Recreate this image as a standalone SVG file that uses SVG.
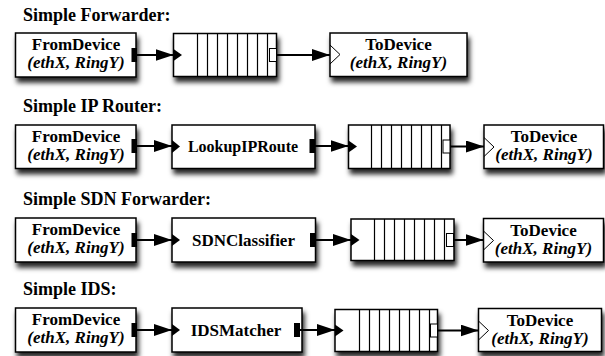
<svg xmlns="http://www.w3.org/2000/svg" width="605" height="356" viewBox="0 0 605 356">
<defs>
<filter id="sh" x="-10%" y="-20%" width="125%" height="170%" color-interpolation-filters="sRGB">
<feGaussianBlur in="SourceAlpha" stdDeviation="2.5" result="bl"/>
<feOffset in="bl" dx="1.5" dy="5" result="b"/>
<feFlood flood-color="#000" flood-opacity="0.85" result="f"/>
<feComposite in="f" in2="b" operator="in" result="c"/>
<feMerge><feMergeNode in="c"/><feMergeNode in="SourceGraphic"/></feMerge>
</filter>
<marker id="ah" viewBox="0 0 18 12" refX="18" refY="6" markerWidth="18" markerHeight="12" markerUnits="userSpaceOnUse" orient="auto">
<path d="M0,0 L18,6 L0,12 z" fill="#000"/>
</marker>
</defs>
<style>
.box{fill:#fff;stroke:#000;stroke-width:1.5}
.t{font-family:'Liberation Serif','Times New Roman','DejaVu Serif',serif;font-weight:bold;font-size:17px;text-anchor:middle;fill:#000}
.i{font-style:italic}
.title{font-family:'Liberation Serif','Times New Roman','DejaVu Serif',serif;font-weight:bold;font-size:18px;fill:#000}
.ql{stroke:#000;stroke-width:1.2}
.op{fill:#000}
.qp{fill:#fff;stroke:#000;stroke-width:1}
.ip{fill:#000}
.ch{fill:none;stroke:#000;stroke-width:1}
.c{stroke:#000;stroke-width:2;fill:none;marker-end:url(#ah)}
</style>

<text class="title" x="23" y="21">Simple Forwarder:</text>
<text class="title" x="23" y="112">Simple IP Router:</text>
<text class="title" x="23" y="205">Simple SDN Forwarder:</text>
<text class="title" x="23" y="295">Simple IDS:</text>

<!-- Row 1 -->
<g id="r1-from">
<rect class="box" filter="url(#sh)" x="15.5" y="33" width="120.5" height="44"/>
<rect class="op" x="131.5" y="48" width="5.5" height="14"/>
<text class="t" x="76" y="50">FromDevice</text>
<text class="t i" x="76" y="68">(ethX, RingY)</text>
</g>
<g id="r1-queue">
<rect class="box" filter="url(#sh)" x="173.5" y="33.5" width="103" height="43"/>
<path class="ql" d="M197.5,33.5V76.5M207.5,33.5V76.5M217.5,33.5V76.5M227.5,33.5V76.5M237.5,33.5V76.5M247.5,33.5V76.5M257.5,33.5V76.5M267.5,33.5V76.5"/>
<path class="ip" d="M173.5,49 L182,55 L173.5,61 z"/>
<rect class="qp" x="269.5" y="48.5" width="7" height="13"/>
</g>
<g id="r1-to">
<rect class="box" filter="url(#sh)" x="330" y="33" width="137" height="43.5"/>
<polyline class="ch" points="330,45 340,54.5 330,64"/>
<text class="t" x="398.5" y="50">ToDevice</text>
<text class="t i" x="398.5" y="68">(ethX, RingY)</text>
</g>

<!-- Row 2 -->
<g id="r2-from">
<rect class="box" filter="url(#sh)" x="15.5" y="125" width="120.5" height="43.5"/>
<rect class="op" x="131.5" y="139" width="5.5" height="14"/>
<text class="t" x="76" y="142">FromDevice</text>
<text class="t i" x="76" y="160">(ethX, RingY)</text>
</g>
<g id="r2-lookup">
<rect class="box" filter="url(#sh)" x="172" y="125" width="143" height="43.5"/>
<path class="ip" d="M172,140 L180,146.5 L172,153 z"/>
<rect class="op" x="309.5" y="139" width="5.5" height="14"/>
<text class="t" x="243" y="151.5" style="font-size:16px">LookupIPRoute</text>
</g>
<g id="r2-queue">
<rect class="box" filter="url(#sh)" x="348.5" y="125" width="101.5" height="43.5"/>
<path class="ql" d="M371.5,125V168.5M381.5,125V168.5M391.5,125V168.5M401.5,125V168.5M411.5,125V168.5M421.5,125V168.5M431.5,125V168.5M441.5,125V168.5"/>
<path class="ip" d="M348.5,140.5 L357,146.5 L348.5,152.5 z"/>
<rect class="qp" x="443" y="140" width="7" height="13"/>
</g>
<g id="r2-to">
<rect class="box" filter="url(#sh)" x="484" y="125" width="119.5" height="43.5"/>
<polyline class="ch" points="484,137.5 494,147 484,156.5"/>
<text class="t" x="544" y="142">ToDevice</text>
<text class="t i" x="544" y="160">(ethX, RingY)</text>
</g>

<!-- Row 3 -->
<g id="r3-from">
<rect class="box" filter="url(#sh)" x="15.5" y="218" width="120.5" height="44"/>
<rect class="op" x="131.5" y="233" width="5.5" height="14"/>
<text class="t" x="76" y="235">FromDevice</text>
<text class="t i" x="76" y="253">(ethX, RingY)</text>
</g>
<g id="r3-sdn">
<rect class="box" filter="url(#sh)" x="172" y="218" width="143.5" height="44"/>
<path class="ip" d="M172,234 L180,240 L172,246 z"/>
<rect class="op" x="310" y="233" width="5.5" height="14"/>
<text class="t" x="243.5" y="245.5">SDNClassifier</text>
</g>
<g id="r3-queue">
<rect class="box" filter="url(#sh)" x="351" y="219" width="103" height="41.5"/>
<path class="ql" d="M374.5,219V260.5M384.5,219V260.5M394.5,219V260.5M404.5,219V260.5M414.5,219V260.5M424.5,219V260.5M434.5,219V260.5M444.5,219V260.5"/>
<path class="ip" d="M351,234 L359.5,240 L351,246 z"/>
<rect class="qp" x="446.5" y="233.5" width="7" height="13"/>
</g>
<g id="r3-to">
<rect class="box" filter="url(#sh)" x="483.5" y="218.5" width="120" height="43.5"/>
<polyline class="ch" points="483.5,231 493.5,240.5 483.5,250"/>
<text class="t" x="543.5" y="236">ToDevice</text>
<text class="t i" x="543.5" y="254">(ethX, RingY)</text>
</g>

<!-- Row 4 -->
<g id="r4-from">
<rect class="box" filter="url(#sh)" x="15.5" y="308" width="120.5" height="44"/>
<rect class="op" x="131.5" y="323" width="5.5" height="14"/>
<text class="t" x="76" y="325">FromDevice</text>
<text class="t i" x="76" y="343">(ethX, RingY)</text>
</g>
<g id="r4-ids">
<rect class="box" filter="url(#sh)" x="172" y="308" width="130" height="44"/>
<path class="ip" d="M172,324 L180,330 L172,336 z"/>
<rect class="op" x="294" y="323" width="6" height="14"/>
<text class="t" x="236" y="335.5">IDSMatcher</text>
</g>
<g id="r4-queue">
<rect class="box" filter="url(#sh)" x="335" y="309.5" width="102.5" height="42"/>
<path class="ql" d="M359.5,309.5V351.5M369.5,309.5V351.5M379.5,309.5V351.5M389.5,309.5V351.5M399.5,309.5V351.5M409.5,309.5V351.5M419.5,309.5V351.5M429.5,309.5V351.5"/>
<path class="ip" d="M335,324.5 L343.5,330.5 L335,336.5 z"/>
<rect class="qp" x="430.5" y="324" width="7" height="13"/>
</g>
<g id="r4-to">
<rect class="box" filter="url(#sh)" x="478.5" y="308.5" width="123" height="43"/>
<polyline class="ch" points="478.5,321 488.5,330.5 478.5,340"/>
<text class="t" x="540" y="326">ToDevice</text>
<text class="t i" x="540" y="344">(ethX, RingY)</text>
</g>

<g id="connectors">
<line class="c" x1="137" y1="55" x2="173.5" y2="55"/>
<line class="c" x1="276.5" y1="55" x2="330" y2="55"/>
<line class="c" x1="137" y1="146" x2="172" y2="146"/>
<line class="c" x1="315" y1="146" x2="348.5" y2="146"/>
<line class="c" x1="450" y1="146.5" x2="484" y2="146.5"/>
<line class="c" x1="137" y1="240" x2="172" y2="240"/>
<line class="c" x1="315.5" y1="240" x2="351" y2="240"/>
<line class="c" x1="454" y1="240" x2="483.5" y2="240"/>
<line class="c" x1="137" y1="330" x2="172" y2="330"/>
<line class="c" x1="300" y1="330" x2="335" y2="330"/>
<line class="c" x1="437.5" y1="330.5" x2="478.5" y2="330.5"/>
</g>
</svg>
